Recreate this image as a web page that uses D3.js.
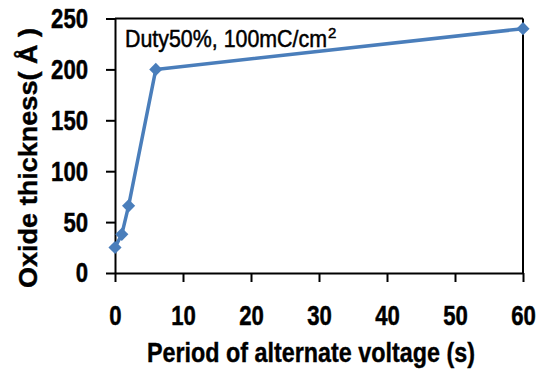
<!DOCTYPE html>
<html><head><meta charset="utf-8">
<script src="https://cdn.jsdelivr.net/npm/d3@7"></script>
<style>
html,body{margin:0;padding:0;background:#fff;}
svg{display:block;}
</style></head>
<body>
<svg id="chart" width="555" height="369"></svg>
<script>
const periods = [0, 1, 2, 6, 60];
const thickness = [25, 38, 66, 200, 240];
const xTicks = [0, 10, 20, 30, 40, 50, 60];
const yTicks = [0, 50, 100, 150, 200, 250];
const xTitle = "Period of alternate voltage (s)";
const yTitle = "Oxide thickness( Å )";
const note = "Duty50%, 100mC/cm";

const font = "'Liberation Sans',Arial,sans-serif";
const svg = d3.select("#chart");
const L = 115, R = 523, T = 18.5, B = 273;
const x = d3.scaleLinear().domain([0, 60]).range([L, R]);
const y = d3.scaleLinear().domain([0, 250]).range([B, T]);

// frame top & right
svg.append("line").attr("x1", L).attr("x2", R).attr("y1", T).attr("y2", T).attr("stroke", "#000").attr("stroke-width", 2);
svg.append("line").attr("x1", R).attr("x2", R).attr("y1", T).attr("y2", B).attr("stroke", "#000").attr("stroke-width", 2);

const xa = svg.append("g").attr("transform", `translate(0,${B})`)
  .call(d3.axisBottom(x).tickValues(xTicks).tickSize(9).tickSizeOuter(0).tickPadding(23));
const ya = svg.append("g").attr("transform", `translate(${L},0)`)
  .call(d3.axisLeft(y).tickValues(yTicks).tickSize(9).tickSizeOuter(0).tickPadding(18));
[xa, ya].forEach(g => {
  g.select(".domain").attr("stroke", "#000").attr("stroke-width", 2);
  g.selectAll(".tick line").attr("stroke", "#000").attr("stroke-width", 2);
  g.selectAll(".tick text").attr("fill", "#000").style("font-family", font)
    .style("font-weight", "bold").style("font-size", "28px")
    .attr("stroke", "#000").attr("stroke-width", 0.5)
    .attr("textLength", function () { return 12.3 * this.textContent.length; })
    .attr("lengthAdjust", "spacingAndGlyphs");
});

const line = d3.line().x((d, i) => x(periods[i])).y(d => y(d));
svg.append("path").datum(thickness).attr("d", line)
  .attr("fill", "none").attr("stroke", "#4a7ebb").attr("stroke-width", 3.5).attr("stroke-linejoin", "round");
svg.selectAll(".pt").data(thickness).enter().append("path")
  .attr("transform", (d, i) => `translate(${x(periods[i])},${y(d)})`)
  .attr("d", d3.symbol(d3.symbolDiamond2, 110)())
  .attr("fill", "#4a7ebb");

// annotation
const t = svg.append("text").attr("x", 125).attr("y", 47)
  .style("font-family", font).style("font-size", "24px").attr("fill", "#000")
  .attr("stroke", "#000").attr("stroke-width", 0.5);
t.append("tspan").attr("textLength", 202).attr("lengthAdjust", "spacingAndGlyphs").text(note);
t.append("tspan").attr("dx", 1).attr("dy", -9).style("font-size", "15px").text("2");

// axis titles
svg.append("text").attr("x", 311).attr("y", 362).attr("text-anchor", "middle")
  .style("font-family", font).style("font-weight", "bold").style("font-size", "28px")
  .attr("stroke", "#000").attr("stroke-width", 0.4)
  .attr("textLength", 328).attr("lengthAdjust", "spacingAndGlyphs").text(xTitle);
svg.append("text").attr("transform", "translate(37,288) rotate(-90)").attr("text-anchor", "start")
  .style("font-family", font).style("font-weight", "bold").style("font-size", "25px")
  .attr("stroke", "#000").attr("stroke-width", 0.4)
  .attr("textLength", 260).attr("lengthAdjust", "spacingAndGlyphs").text(yTitle);
</script>
</body></html>
